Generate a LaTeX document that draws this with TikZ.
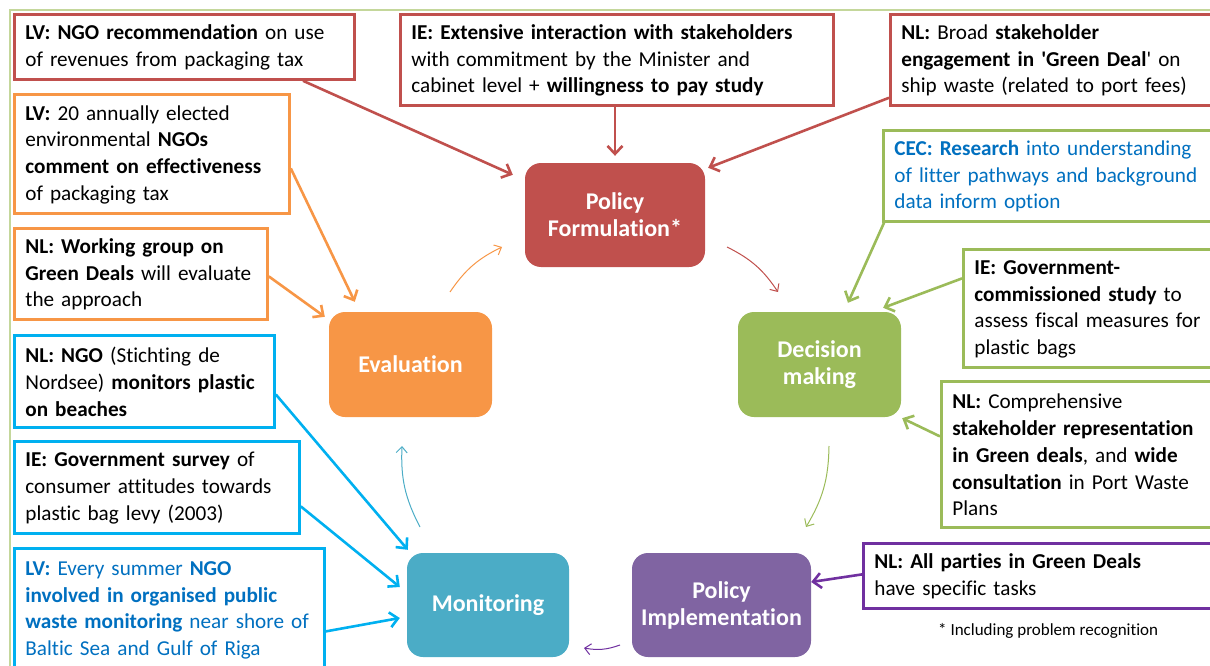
\documentclass[tikz,border=0pt]{standalone}
\usepackage{fontspec}
\setmainfont{Carlito}[Ligatures={NoCommon}]
\usetikzlibrary{arrows.meta,calc}

\definecolor{cred}{HTML}{C0504D}
\definecolor{corange}{HTML}{F79646}
\definecolor{cgreen}{HTML}{9BBB59}
\definecolor{cpurple}{HTML}{8064A2}
\definecolor{cteal}{HTML}{4BACC6}
\definecolor{ccyan}{HTML}{00B0F0}
\definecolor{cviolet}{HTML}{7030A0}
\definecolor{ctextblue}{HTML}{0070C0}
\definecolor{cframe}{HTML}{C4D79B}

\tikzset{
  infobox/.style={draw, fill=white, line width=2.8pt, anchor=north west, inner xsep=11pt,
    inner ysep=0pt, align=left, text=black, font=\fontsize{21.2}{26.7}\selectfont},
  stage/.style={rounded corners=16pt, text=white, align=center, inner sep=0pt,
    font=\fontsize{24}{27}\selectfont\bfseries},
  feed/.style={line width=2.6pt, -{Straight Barb[length=8pt,width=15pt,line width=2.6pt]}},
  cycle/.style={line width=1pt, -{Straight Barb[length=6pt,width=11pt,line width=1pt]}, bend left=15},
}

\newcommand{\infonode}[7]{%
  % name, colour, left, top, right, bottom, text
  \node[infobox, draw=#2, minimum width={#5-#3}, minimum height={#6-#4},
        text width={#5-#3-22}] (#1) at (#3,#4) {\rule{0pt}{16pt}#7};}

\begin{document}
\begin{tikzpicture}[x=1pt,y=-1pt]
\useasboundingbox (0,0) rectangle (1210,666);
\clip (0,0) rectangle (1210,666);

% thin frame along the top and left margins
\draw[cframe, line width=1.6pt] (10,670) -- (10,10) -- (1215,10);

% the five stages of the policy cycle
\node[stage, fill=cred, minimum width=180, minimum height=104] (pf) at (615,215) {Policy\\Formulation*};
\node[stage, fill=cgreen, minimum width=163, minimum height=105] (dm) at (819.5,364.5) {Decision\\making};
\node[stage, fill=cpurple, minimum width=179, minimum height=104] (pi) at (721.5,605) {Policy\\Implementation};
\node[stage, fill=cteal, minimum width=162, minimum height=104] (mo) at (488,605) {Monitoring};
\node[stage, fill=corange, minimum width=163, minimum height=105] (ev) at (410.5,364.5) {Evaluation};

% examples attached to each stage
\infonode{r1}{cred}{13}{13}{353}{78}{\textbf{LV: NGO recommendation} on use\\of revenues from packaging tax}
\infonode{r2}{cred}{399}{13}{832}{104}{\textbf{IE: Extensive interaction with stakeholders}\\with commitment by the Minister and\\cabinet level + \textbf{willingness to pay study}}
\infonode{r3}{cred}{889}{13}{1215}{104}{\textbf{NL:} Broad \textbf{stakeholder}\\\textbf{engagement in \textquotesingle Green Deal}\textquotesingle{} on\\ship waste (related to port fees)}
\infonode{o1}{corange}{13}{93}{288}{212}{\textbf{LV:} 20 annually elected\\environmental \textbf{NGOs}\\\textbf{comment on effectiveness}\\of packaging tax}
\infonode{o2}{corange}{13}{227}{266}{318}{\textbf{NL: Working group on}\\\textbf{Green Deals} will evaluate\\the approach}
\infonode{b1}{ccyan}{13}{334}{273}{426}{\textbf{NL: NGO} (Stichting de\\Nordsee) \textbf{monitors plastic}\\\textbf{on beaches}}
\infonode{b2}{ccyan}{13}{440}{298}{532}{\textbf{IE: Government survey} of\\consumer attitudes towards\\plastic bag levy (2003)}
\infonode{b3}{ccyan}{13}{547}{323}{669}{\color{ctextblue}\textbf{LV:} Every summer \textbf{NGO}\\\textbf{involved in organised public}\\\textbf{waste monitoring} near shore of\\Baltic Sea and Gulf of Riga}
\infonode{g1}{cgreen}{882}{129}{1215}{220}{\color{ctextblue}\textbf{CEC: Research} into understanding\\of litter pathways and background\\data inform option}
\infonode{g2}{cgreen}{962}{248}{1215}{366}{\textbf{IE: Government-}\\\textbf{commissioned study} to\\assess fiscal measures for\\plastic bags}
\infonode{g3}{cgreen}{940}{380}{1215}{526}{\textbf{NL:} Comprehensive\\\textbf{stakeholder representation}\\\textbf{in Green deals}, and \textbf{wide}\\\textbf{consultation} in Port Waste\\Plans}
\infonode{p1}{cviolet}{862}{542}{1215}{607}{\textbf{NL: All parties in Green Deals}\\have specific tasks}

\node[anchor=west, font=\fontsize{17}{20}\selectfont, inner sep=0pt] (note) at (938,631) {* Including problem recognition};

% arrows from the examples to their stage
\draw[feed, cred] ($(r1.south west)+(290,0)$) -- ($(pf.north west)+(-12,12)$);
\draw[feed, cred] (r2.south -| pf.north) -- ($(pf.north)+(0,-7)$);
\draw[feed, cred] ($(r3.south west)+(0,-9)$) -- ($(pf.north east)+(3,5)$);
\draw[feed, corange] ($(o1.east)+(0,14.5)$) -- ($(ev.north west)+(26,-10)$);
\draw[feed, corange] ($(o2.east)+(0,2.5)$) -- ($(ev.north west)+(-4,5)$);
\draw[feed, ccyan] ($(b1.east)+(0,13)$) -- ($(mo.north west)+(1,-3)$);
\draw[feed, ccyan] ($(b2.east)+(0,19)$) -- ($(mo.west)+(-7,-18)$);
\draw[feed, ccyan] ($(b3.east)+(0,22)$) -- ($(mo.west)+(-7,13)$);
\draw[feed, cgreen] ($(g1.south west)+(2,0)$) -- ($(dm.north)+(28.5,-9)$);
\draw[feed, cgreen] ($(g2.west)+(0,-30)$) -- ($(dm.north east)+(-18,-4)$);
\draw[feed, cgreen] ($(g3.west)+(0,-18)$) -- ($(dm.south east)+(1,1)$);
\draw[feed, cviolet] ($(p1.west)+(0,-1.5)$) -- ($(pi.east)+(0,-23)$);

% the cycle between the stages
\coordinate (evout) at (450,292);  \coordinate (pfin) at (502,247);
\coordinate (pfout) at (727,247);  \coordinate (dmin) at (778,292);
\coordinate (dmout) at (829,446);  \coordinate (piin) at (806,527);
\coordinate (piout) at (620,645);  \coordinate (moin) at (584,648);
\coordinate (moout) at (420,527);  \coordinate (evin) at (402,446);
\draw[cycle, corange] (evout) to (pfin);
\draw[cycle, cred] (pfout) to (dmin);
\draw[cycle, cgreen] (dmout) to (piin);
\draw[cycle, cviolet] (piout) to (moin);
\draw[cycle, cteal] (moout) to (evin);
\end{tikzpicture}
\end{document}
